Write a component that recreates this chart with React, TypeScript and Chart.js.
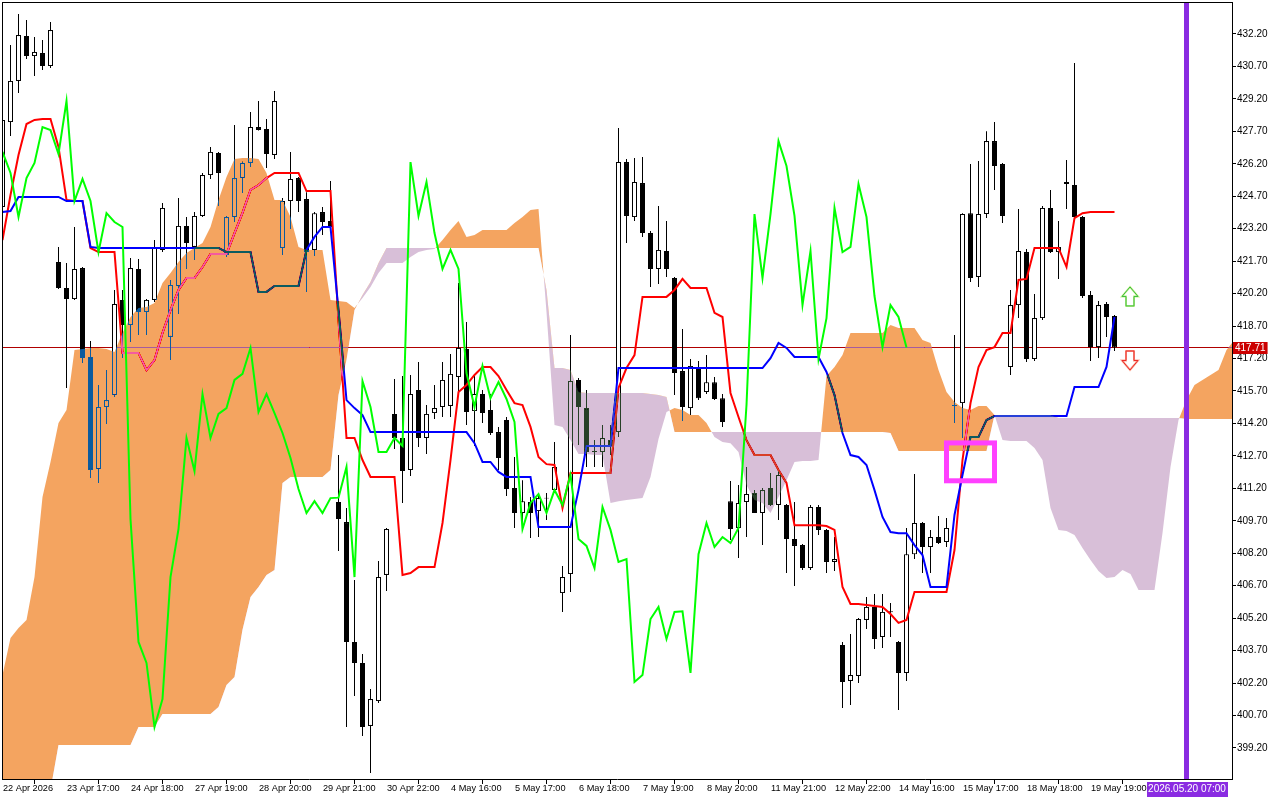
import React, { useEffect, useRef } from "react";
import { Chart, registerables } from "chart.js";

Chart.register(...registerables);

const FONT = "'Liberation Sans', Arial, sans-serif";

// ---- time axis ----
const labelBars = [0, 8, 16, 24, 32, 40, 48, 56, 64, 72, 80, 88, 96, 104, 112, 120, 128, 136];
const timeLabels = [
  "22 Apr 2026", "23 Apr 17:00", "24 Apr 18:00", "27 Apr 19:00", "28 Apr 20:00", "29 Apr 21:00",
  "30 Apr 22:00", "4 May 16:00", "5 May 17:00", "6 May 18:00", "7 May 19:00", "8 May 20:00",
  "11 May 21:00", "12 May 22:00", "14 May 16:00", "15 May 17:00", "18 May 18:00", "19 May 19:00",
];
const priceTicks = [
  399.2, 400.7, 402.2, 403.7, 405.2, 406.7, 408.2, 409.7, 411.2, 412.7, 414.2, 415.7,
  417.2, 418.7, 420.2, 421.7, 423.2, 424.7, 426.2, 427.7, 429.2, 430.7, 432.2,
];

// ---- candles ----
const openP = [
  424.20, 428.13, 430.03, 432.11, 431.18, 431.32, 430.72, 421.66, 420.46, 419.95,
  421.38, 417.27, 412.09, 414.96, 415.51, 419.91, 418.75, 421.34, 419.35, 419.91,
  422.22, 418.20, 420.55, 423.33, 422.36, 423.79, 425.68, 426.70, 421.99, 423.74,
  425.54, 426.24, 427.90, 427.81, 426.61, 422.31, 424.48, 425.54, 424.57, 422.22,
  423.97, 423.56, 410.57, 409.64, 404.10, 403.13, 400.22, 401.37, 407.20, 414.64,
  413.53, 412.05, 415.75, 413.53, 414.68, 414.96, 415.01, 416.35, 417.64, 414.77,
  415.56, 414.82, 413.80, 414.36, 411.22, 410.06, 410.57, 410.15, 410.73, 411.12,
  406.36, 407.24, 416.21, 414.91, 412.93, 412.88, 413.43, 413.80, 426.28, 423.74,
  425.31, 423.00, 421.34, 422.17, 420.92, 416.62, 414.91, 416.81, 415.65, 416.11,
  415.37, 410.61, 409.37, 410.57, 410.98, 410.06, 411.22, 410.43, 410.43, 408.86,
  408.58, 407.52, 410.34, 409.28, 407.80, 403.96, 402.30, 402.53, 405.12, 405.72,
  404.33, 405.47, 404.10, 402.67, 408.16, 409.60, 408.49, 408.95, 408.72, 415.01,
  415.14, 423.92, 420.97, 423.88, 427.25, 426.19, 416.81, 419.67, 422.12, 417.18,
  419.07, 424.16, 422.12, 425.36, 425.22, 423.74, 420.14, 417.73, 419.72, 419.17,
];
const highP = [
  428.46, 431.69, 433.12, 432.85, 432.06, 431.92, 432.75, 422.36, 421.62, 423.28,
  421.43, 418.01, 415.98, 416.67, 420.37, 420.37, 421.85, 421.80, 419.95, 422.68,
  424.39, 420.83, 424.62, 423.74, 423.97, 425.78, 426.98, 426.75, 423.79, 427.99,
  426.29, 428.60, 429.10, 428.27, 429.56, 424.62, 426.75, 425.59, 424.89, 423.97,
  424.20, 425.41, 412.74, 410.29, 406.96, 403.54, 401.93, 407.84, 409.37, 416.25,
  416.39, 416.44, 417.04, 415.05, 415.98, 417.04, 417.41, 420.69, 418.89, 416.39,
  415.75, 415.56, 414.04, 414.50, 412.65, 411.58, 410.80, 410.89, 410.98, 413.34,
  407.61, 418.29, 416.30, 415.75, 413.43, 414.13, 414.13, 427.86, 426.42, 426.47,
  426.51, 423.10, 424.25, 423.56, 420.97, 418.57, 417.18, 417.09, 417.36, 416.35,
  415.56, 411.54, 411.35, 412.19, 411.12, 411.22, 411.91, 412.05, 410.48, 410.57,
  408.63, 410.43, 410.43, 409.32, 408.95, 404.10, 404.47, 405.21, 406.18, 406.32,
  406.32, 405.90, 404.14, 409.37, 411.86, 409.64, 409.28, 409.92, 409.83, 418.29,
  423.92, 426.19, 426.33, 427.71, 428.13, 426.24, 420.37, 424.11, 422.26, 420.18,
  424.25, 424.99, 423.56, 426.38, 430.86, 423.79, 420.32, 419.86, 419.81, 419.21,
];
const lowP = [
  423.97, 427.49, 429.47, 431.04, 430.26, 430.54, 430.63, 420.41, 415.84, 419.91,
  416.99, 411.68, 411.45, 414.17, 415.42, 417.22, 417.96, 418.29, 418.29, 419.81,
  422.12, 417.13, 419.26, 421.34, 421.75, 423.74, 425.50, 424.25, 421.89, 423.51,
  424.85, 426.05, 427.74, 426.01, 426.42, 421.99, 423.19, 423.97, 420.27, 421.94,
  422.91, 423.05, 408.30, 400.17, 401.60, 399.75, 398.04, 401.28, 406.46, 413.02,
  410.52, 411.77, 413.11, 412.79, 414.40, 414.50, 414.50, 415.51, 414.13, 413.16,
  414.22, 413.67, 412.05, 410.85, 409.37, 409.28, 408.90, 408.95, 409.74, 410.98,
  405.49, 406.41, 413.20, 412.19, 412.19, 412.19, 412.74, 413.57, 422.54, 423.56,
  422.82, 420.51, 420.65, 420.97, 415.51, 414.31, 414.59, 415.28, 415.56, 415.28,
  414.04, 408.81, 407.98, 408.95, 410.06, 408.58, 410.38, 409.74, 407.29, 406.69,
  407.43, 407.43, 409.04, 407.29, 407.38, 401.05, 401.19, 402.20, 404.70, 403.77,
  403.82, 404.33, 400.96, 402.30, 407.93, 407.29, 407.29, 408.63, 408.49, 414.22,
  413.53, 420.74, 420.51, 423.69, 424.99, 423.46, 416.44, 419.07, 417.04, 417.09,
  418.98, 422.08, 420.88, 424.11, 423.69, 420.00, 417.09, 417.22, 418.20, 417.55,
];
const closeP = [
  428.23, 430.03, 432.15, 431.18, 431.37, 430.72, 432.38, 420.46, 419.95, 421.34,
  417.22, 412.05, 414.96, 415.28, 419.72, 418.75, 421.38, 419.35, 419.91, 422.31,
  424.16, 420.60, 423.33, 422.54, 423.79, 425.68, 426.75, 425.78, 423.74, 425.54,
  426.24, 427.90, 427.76, 426.65, 429.10, 424.48, 425.50, 424.48, 422.12, 423.92,
  423.51, 423.28, 409.78, 404.10, 403.13, 400.17, 401.46, 407.10, 409.32, 413.53,
  412.00, 415.56, 413.53, 414.64, 414.91, 416.21, 416.49, 417.69, 414.73, 415.56,
  414.68, 413.76, 412.60, 411.17, 410.06, 410.61, 410.06, 410.75, 410.77, 412.19,
  407.10, 416.16, 414.96, 412.88, 412.88, 413.53, 413.16, 426.28, 423.79, 425.36,
  423.00, 421.34, 422.22, 421.34, 416.53, 414.96, 416.86, 415.37, 416.11, 415.33,
  414.27, 409.32, 410.52, 410.94, 410.06, 411.12, 410.43, 411.82, 408.86, 408.54,
  407.52, 410.34, 409.28, 407.80, 407.93, 402.25, 402.57, 405.16, 405.72, 404.24,
  405.49, 405.52, 402.67, 408.16, 409.60, 408.49, 408.95, 408.67, 409.37, 415.05,
  423.88, 420.92, 423.88, 427.25, 426.10, 423.79, 419.67, 422.17, 417.18, 419.07,
  424.16, 422.12, 422.36, 425.27, 423.74, 420.09, 417.73, 419.67, 419.12, 417.71,
];

// ---- Ichimoku lines ----
const tenkan = [
  422.68, 424.76, 426.61, 428.04, 428.23, 428.27, 428.27, 426.98, 424.53, 424.48,
  424.48, 422.31, 422.12, 422.12, 422.12, 417.46, 417.46, 417.46, 416.67, 417.13,
  418.38, 419.44, 420.37, 420.92, 420.92, 421.43, 422.03, 422.03, 422.03, 423.00,
  423.93, 424.99, 425.22, 425.54, 425.78, 425.78, 425.78, 425.78, 424.94, 424.94,
  424.94, 424.94, 418.98, 413.53, 413.53, 412.51, 411.73, 411.73, 411.73, 411.73,
  407.20, 407.29, 407.56, 407.56, 407.56, 409.60, 412.51, 415.65, 415.98, 416.44,
  416.81, 416.81, 416.39, 415.75, 415.14, 415.05, 414.04, 412.65, 412.32, 412.28,
  410.29, 411.91, 411.91, 411.91, 411.91, 411.91, 411.91, 415.84, 416.76, 417.36,
  420.05, 420.05, 420.05, 420.05, 420.37, 420.88, 420.46, 420.46, 420.46, 419.31,
  419.12, 415.61, 414.50, 413.43, 412.74, 412.74, 412.74, 412.05, 411.45, 409.50,
  409.50, 409.50, 409.50, 409.46, 409.28, 406.64, 405.86, 405.86, 405.81, 405.76,
  405.72, 405.39, 404.98, 405.12, 406.41, 406.41, 406.41, 406.41, 406.41, 408.35,
  412.51, 415.14, 416.81, 417.59, 417.73, 418.38, 418.38, 420.83, 420.88, 422.31,
  422.31, 422.31, 422.31, 421.43, 423.69, 423.92, 423.97, 423.97, 423.97, 423.97,
];
const kijun = [
  423.97, 424.02, 424.67, 424.67, 424.67, 424.67, 424.67, 424.67, 424.48, 424.48,
  424.48, 422.36, 422.31, 422.31, 422.31, 422.31, 422.31, 422.31, 422.31, 422.31,
  422.31, 422.31, 422.31, 422.31, 422.31, 422.31, 422.31, 422.31, 422.12, 422.12,
  422.12, 422.12, 420.28, 420.28, 420.55, 420.55, 420.55, 420.55, 422.22, 422.82,
  423.28, 423.28, 419.44, 415.28, 414.91, 414.59, 413.80, 413.80, 413.80, 413.80,
  413.80, 413.80, 413.80, 413.80, 413.80, 413.80, 413.80, 413.80, 413.80, 413.29,
  412.42, 412.42, 411.96, 411.73, 411.73, 411.73, 411.73, 409.41, 409.41, 409.41,
  409.41, 409.41, 411.12, 413.16, 413.16, 413.16, 413.16, 416.76, 416.76, 416.76,
  416.76, 416.76, 416.76, 416.76, 416.76, 416.76, 416.76, 416.76, 416.76, 416.76,
  416.76, 416.76, 416.76, 416.76, 416.76, 416.76, 417.22, 417.92, 417.69, 417.27,
  417.27, 417.27, 417.27, 416.58, 415.51, 413.76, 412.74, 412.65, 412.28, 411.12,
  409.88, 409.18, 409.13, 409.13, 408.58, 408.12, 406.64, 406.64, 406.64, 409.97,
  411.82, 413.57, 413.57, 414.36, 414.54, 414.54, 414.54, 414.54, 414.54, 414.54,
  414.54, 414.54, 414.54, 414.54, 415.88, 415.88, 415.88, 415.88, 416.81, 419.12,
];
const spanA = [
  402.57, 404.28, 404.75, 405.12, 407.10, 410.80, 412.42, 414.22, 414.82, 417.59,
  417.64, 417.69, 417.69, 417.64, 417.50, 418.38, 419.12, 419.54, 419.58, 419.77,
  420.69, 421.15, 421.66, 422.08, 422.31, 422.54, 423.28, 424.53, 425.59, 426.42,
  426.47, 426.47, 426.42, 425.78, 424.53, 424.53, 423.74, 422.36, 422.22, 422.22,
  422.22, 419.91, 419.86, 419.81, 419.54, 420.00, 420.51, 421.15, 421.62, 421.62,
  421.62, 421.89, 422.12, 422.22, 422.26, 422.68, 423.14, 423.56, 422.82, 422.91,
  423.14, 423.14, 423.14, 423.14, 423.46, 423.74, 424.07, 424.11, 419.35, 414.13,
  414.04, 413.43, 412.79, 412.79, 412.74, 412.74, 410.52, 410.61, 410.66, 410.71,
  410.75, 411.73, 413.48, 414.73, 414.91, 414.82, 414.59, 414.59, 414.22, 413.57,
  413.34, 413.29, 412.88, 411.35, 410.66, 410.52, 410.06, 410.80, 411.58, 412.42,
  412.46, 412.46, 412.51, 416.39, 416.81, 417.36, 418.38, 418.38, 418.38, 418.38,
  418.38, 418.75, 418.61, 418.61, 418.61, 418.06, 417.92, 416.67, 415.65, 415.19,
  414.91, 414.82, 415.01, 415.01, 414.59, 413.43, 413.39, 413.39, 413.39, 413.06,
  412.51, 410.29, 409.28, 409.23, 409.04, 408.44, 407.89, 407.38, 407.06, 407.10,
  407.43, 407.24, 406.50, 406.50, 406.50, 409.14, 412.19, 414.36, 415.28, 415.98,
  416.21, 416.44, 416.67, 417.59, 418.06,
];
const spanB = [
  396.80, 396.80, 396.80, 396.80, 396.80, 396.80, 397.26, 399.34, 399.34, 399.34,
  399.34, 399.34, 399.34, 399.34, 399.34, 399.34, 399.34, 400.17, 400.17, 400.17,
  400.77, 400.77, 400.77, 400.77, 400.77, 400.77, 400.77, 401.09, 402.11, 402.48,
  404.66, 406.18, 406.64, 407.20, 407.43, 411.45, 411.73, 411.73, 411.73, 411.73,
  411.73, 412.05, 415.51, 417.13, 419.44, 420.14, 420.74, 421.62, 422.31, 422.31,
  422.31, 422.31, 422.31, 422.31, 422.31, 422.31, 422.31, 422.31, 422.31, 422.31,
  422.31, 422.31, 422.31, 422.31, 422.31, 422.31, 422.31, 422.31, 420.37, 416.76,
  416.76, 416.67, 415.65, 415.61, 415.61, 415.61, 415.61, 415.61, 415.61, 415.61,
  415.61, 415.56, 415.51, 415.42, 413.80, 413.80, 413.80, 413.80, 413.80, 413.80,
  413.80, 413.80, 413.80, 413.80, 413.80, 413.80, 413.80, 413.80, 413.80, 413.80,
  413.80, 413.80, 413.80, 413.80, 413.80, 413.80, 413.80, 413.80, 413.80, 413.80,
  413.80, 413.76, 412.93, 412.93, 412.93, 412.93, 412.93, 412.93, 412.93, 412.93,
  412.93, 412.93, 412.93, 412.93, 414.59, 414.59, 414.59, 414.59, 414.59, 414.59,
  414.59, 414.59, 414.45, 414.45, 414.45, 414.45, 414.45, 414.45, 414.45, 414.45,
  414.45, 414.45, 414.45, 414.45, 414.45, 414.45, 414.45, 414.45, 414.40, 414.40,
  414.40, 414.40, 414.40, 414.40, 414.40,
];
const CHIKOU_SHIFT = 26;

// ---- annotations ----
const BID_PRICE = 417.71;
const MARKER_BAR = 148;
const MARKER_LABEL = "2026.05.20 07:00";
const BOX_BAR_FROM = 118;
const BOX_BAR_TO = 124;
const BOX_PRICE_TOP = 413.3;
const BOX_PRICE_BOTTOM = 411.55;
const ARROW_BAR = 141;
const UP_ARROW_PRICE = 420.07;
const DOWN_ARROW_PRICE = 417.11;

const X_MIN = -0.0625;
const X_MAX = 153.6875;
const Y_MIN = 397.767;
const Y_MAX = 433.679;

const IDX_SPAN_B = 4;
const IDX_SPAN_A = 5;

function arrow(ctx: CanvasRenderingContext2D, cx: number, cy: number, up: boolean, stroke: string, inner: string) {
  const s = up ? -1 : 1;
  const tip = cy + s * 9.5;
  const base = cy;
  const end = cy - s * 9.5;
  ctx.beginPath();
  ctx.moveTo(cx, tip);
  ctx.lineTo(cx + 8, base);
  ctx.lineTo(cx + 4, base);
  ctx.lineTo(cx + 4, end);
  ctx.lineTo(cx - 4, end);
  ctx.lineTo(cx - 4, base);
  ctx.lineTo(cx - 8, base);
  ctx.closePath();
  ctx.fillStyle = "#ffffff";
  ctx.fill();
  ctx.lineWidth = 2;
  ctx.strokeStyle = inner;
  ctx.stroke();
  ctx.lineWidth = 1;
  ctx.strokeStyle = stroke;
  ctx.stroke();
}

export default function App() {
  const ref = useRef<HTMLCanvasElement>(null);

  useEffect(() => {
    const canvas = ref.current;
    if (!canvas) return;
    const bars = closeP.map((_, i) => i);
    const wickData = bars.map((i) => ({ x: i, y: [lowP[i], highP[i]] }));
    const bodyData = bars.map((i) => ({ x: i, y: [openP[i], closeP[i]] }));
    const bodyColors = bars.map((i) => (closeP[i] >= openP[i] ? "#ffffff" : "#000000"));
    const tenkanData = tenkan.map((y, i) => ({ x: i, y }));
    const kijunData = kijun.map((y, i) => ({ x: i, y }));
    const spanAData = spanA.map((y, i) => ({ x: i, y }));
    const spanBData = spanB.map((y, i) => ({ x: i, y }));
    const chikouData = closeP.slice(CHIKOU_SHIFT).map((y, j) => ({ x: j, y }));

    const overlay = {
      id: "mt5Overlay",
      beforeDraw(chart: any) {
        const { ctx } = chart;
        ctx.save();
        ctx.globalCompositeOperation = "source-over";
        ctx.fillStyle = "#ffffff";
        ctx.fillRect(0, 0, chart.width, chart.height);
        ctx.restore();
      },
      beforeDatasetsDraw(chart: any) {
        const { ctx, chartArea: a, scales } = chart;
        const y = Math.floor(scales.y.getPixelForValue(BID_PRICE)) + 0.5;
        ctx.save();
        ctx.strokeStyle = "rgb(176,0,0)";
        ctx.lineWidth = 1;
        ctx.beginPath();
        ctx.moveTo(a.left, y);
        ctx.lineTo(a.right, y);
        ctx.stroke();
        ctx.restore();
      },
      afterDatasetDraw(chart: any, args: any) {
        if (args.index === IDX_SPAN_B) chart.ctx.globalCompositeOperation = "difference";
        else if (args.index === IDX_SPAN_A) chart.ctx.globalCompositeOperation = "source-over";
      },
      afterDatasetsDraw(chart: any) {
        const { ctx, chartArea: a, scales } = chart;
        ctx.save();
        ctx.globalCompositeOperation = "source-over";
        ctx.beginPath();
        ctx.rect(a.left, a.top, a.right - a.left, a.bottom - a.top);
        ctx.clip();
        // vertical time marker
        const mx = scales.x.getPixelForValue(MARKER_BAR);
        ctx.fillStyle = "rgb(138,43,226)";
        ctx.fillRect(mx - 2.5, a.top, 5, a.bottom - a.top);
        // rectangle object
        const bx0 = scales.x.getPixelForValue(BOX_BAR_FROM);
        const bx1 = scales.x.getPixelForValue(BOX_BAR_TO);
        const by0 = scales.y.getPixelForValue(BOX_PRICE_TOP);
        const by1 = scales.y.getPixelForValue(BOX_PRICE_BOTTOM);
        ctx.strokeStyle = "rgb(255,64,255)";
        ctx.lineWidth = 5;
        ctx.strokeRect(bx0, by0, bx1 - bx0, by1 - by0);
        // arrows
        const ax = scales.x.getPixelForValue(ARROW_BAR) - 0.5;
        arrow(ctx, ax, scales.y.getPixelForValue(UP_ARROW_PRICE), true, "rgb(60,190,60)", "rgb(200,240,150)");
        arrow(ctx, ax, scales.y.getPixelForValue(DOWN_ARROW_PRICE), false, "rgb(235,40,40)", "rgb(250,170,150)");
        ctx.restore();
      },
      afterDraw(chart: any) {
        const { ctx, chartArea: a, scales } = chart;
        ctx.save();
        ctx.globalCompositeOperation = "source-over";
        ctx.fillStyle = "#000";
        ctx.fillRect(a.left, a.top, a.right - a.left + 1, 1);
        ctx.fillRect(a.left, a.top, 1, a.bottom - a.top + 1);
        ctx.font = `10px ${FONT}`;
        ctx.textBaseline = "middle";
        // bid price label
        const txt = BID_PRICE.toFixed(2);
        const tw = ctx.measureText(txt).width;
        const py = scales.y.getPixelForValue(BID_PRICE);
        ctx.fillStyle = "rgb(204,0,0)";
        ctx.fillRect(a.right + 1, Math.round(py) - 6, tw + 4, 12);
        ctx.fillStyle = "#fff";
        ctx.textAlign = "left";
        ctx.fillText(txt, a.right + 3, Math.round(py));
        // time marker label
        const mx = scales.x.getPixelForValue(MARKER_BAR);
        const mw = ctx.measureText(MARKER_LABEL).width;
        ctx.fillStyle = "rgb(138,43,226)";
        ctx.fillRect(Math.round(mx - mw / 2 - 1), a.bottom + 3, Math.round(mw + 3), 15);
        ctx.fillStyle = "#fff";
        ctx.textAlign = "center";
        ctx.fillText(MARKER_LABEL, mx + 0.5, a.bottom + 10.5);
        ctx.restore();
      },
    };

    const chart = new Chart(canvas, {
      type: "bar",
      data: {
        datasets: [
          {
            type: "bar",
            data: wickData as any,
            backgroundColor: "#000",
            borderWidth: 0,
            barThickness: 1,
            grouped: false,
            inflateAmount: 0,
            order: 7,
          } as any,
          {
            type: "bar",
            data: bodyData as any,
            backgroundColor: bodyColors,
            borderColor: "#000",
            borderWidth: 1,
            borderSkipped: false,
            barThickness: 5,
            grouped: false,
            inflateAmount: 0,
            order: 6,
          } as any,
          {
            type: "line",
            data: tenkanData,
            borderColor: "rgb(255,0,0)",
            borderWidth: 2,
            pointRadius: 0,
            fill: false,
            order: 5,
          },
          {
            type: "line",
            data: kijunData,
            borderColor: "rgb(0,0,255)",
            borderWidth: 2,
            pointRadius: 0,
            fill: false,
            order: 4,
          },
          {
            type: "line",
            data: spanBData,
            borderColor: "rgba(0,0,0,0)",
            borderWidth: 1,
            pointRadius: 0,
            fill: false,
            order: 3,
          },
          {
            type: "line",
            data: spanAData,
            borderColor: "rgba(0,0,0,0)",
            borderWidth: 1,
            pointRadius: 0,
            fill: { target: IDX_SPAN_B, above: "rgb(11,91,159)", below: "rgb(39,64,39)" },
            order: 2,
          } as any,
          {
            type: "line",
            data: chikouData,
            borderColor: "rgb(0,255,0)",
            borderWidth: 2,
            pointRadius: 0,
            fill: false,
            order: 1,
          },
        ],
      },
      options: {
        responsive: false,
        animation: false,
        devicePixelRatio: 1,
        events: [],
        layout: { padding: { left: 2, top: 2, right: 0, bottom: 0 } },
        plugins: {
          legend: { display: false },
          tooltip: { enabled: false },
          filler: { propagate: false, drawTime: "beforeDatasetDraw" },
        } as any,
        scales: {
          x: {
            type: "linear",
            position: "bottom",
            min: X_MIN,
            max: X_MAX,
            offset: false,
            grid: { display: true, drawOnChartArea: false, drawTicks: true, tickLength: 5, color: "#000" },
            border: { display: true, color: "#000" },
            ticks: {
              autoSkip: false,
              maxRotation: 0,
              minRotation: 0,
              align: "start",
              labelOffset: 0.5,
              padding: -1,
              color: "#000",
              font: { family: FONT, size: 9.2 },
              callback: (v: any) => {
                const k = labelBars.indexOf(Math.round(Number(v)));
                return k >= 0 ? timeLabels[k] : "";
              },
            },
            afterBuildTicks: (s: any) => {
              s.ticks = labelBars.map((v) => ({ value: v }));
            },
            afterFit: (s: any) => {
              s.height = 21;
              s.paddingLeft = 0;
              s.paddingRight = 0;
              s.paddingTop = 0;
              s.paddingBottom = 0;
            },
          },
          y: {
            type: "linear",
            position: "right",
            min: Y_MIN,
            max: Y_MAX,
            grid: { display: true, drawOnChartArea: false, drawTicks: true, tickLength: 4, color: "#000" },
            border: { display: true, color: "#000" },
            ticks: {
              autoSkip: false,
              padding: 1,
              color: "#000",
              font: { family: FONT, size: 10 },
              callback: (v: any) => Number(v).toFixed(2),
            },
            afterBuildTicks: (s: any) => {
              s.ticks = priceTicks.map((v) => ({ value: v }));
            },
            afterFit: (s: any) => {
              s.width = 48;
              s.paddingLeft = 0;
              s.paddingRight = 0;
              s.paddingTop = 0;
              s.paddingBottom = 0;
            },
          },
        },
      } as any,
      plugins: [overlay],
    });

    return () => chart.destroy();
  }, []);

  return (
    <div style={{ position: "absolute", left: 0, top: 0, width: 1280, height: 800, background: "#fff" }}>
      <canvas ref={ref} width={1280} height={800} style={{ display: "block", width: 1280, height: 800 }} />
    </div>
  );
}
